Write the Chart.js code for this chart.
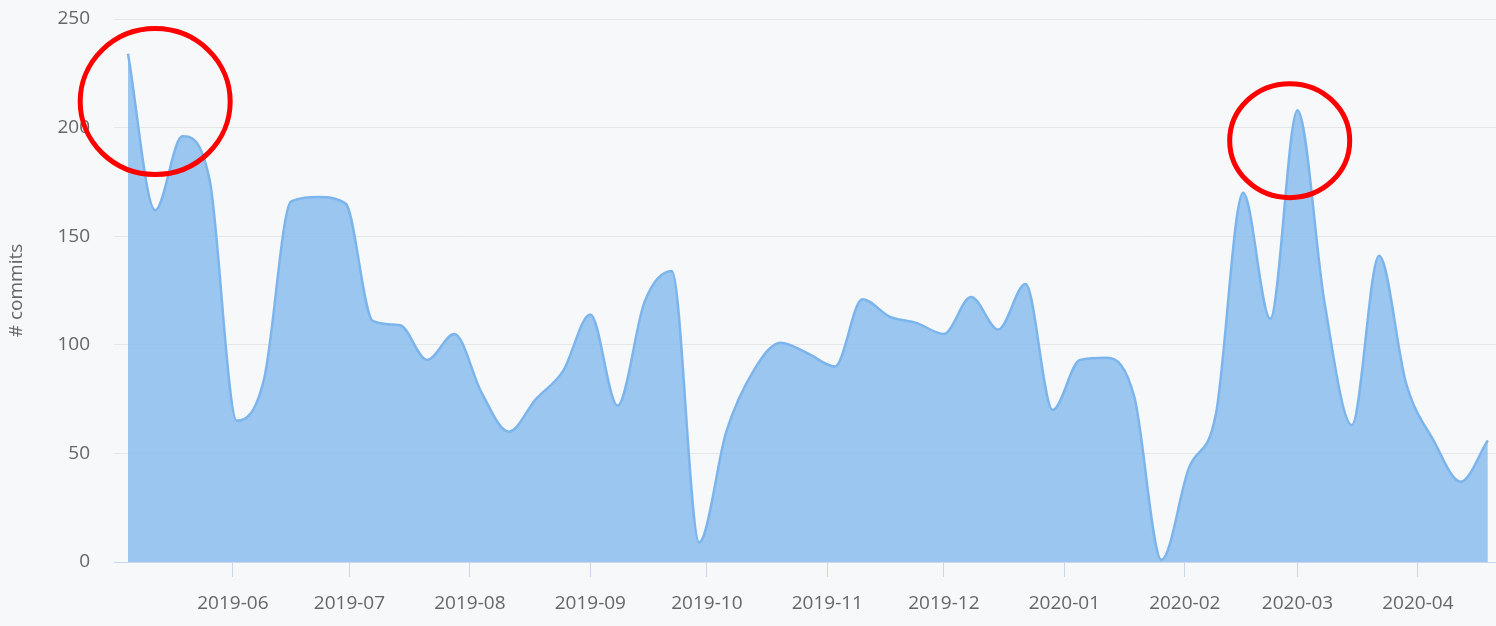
<!DOCTYPE html>
<html>
<head>
<meta charset="utf-8">
<title>Commits per week</title>
<script src="https://cdn.jsdelivr.net/npm/chart.js@4.4.1/dist/chart.umd.min.js"></script>
<style>
  html, body { margin: 0; padding: 0; background: #f7f8fa; }
  #wrap { width: 1496px; height: 626px; position: relative; }
</style>
</head>
<body>
<div id="wrap"><canvas id="commitsChart"></canvas></div>
<script>
// weekly commit counts, first week starts 2019-05-05
var firstWeek = '2019-05-05';
var commits = [234, 162, 196, 176, 65, 84, 166, 168, 165, 111,
               109, 93, 105, 78, 60, 75, 88, 114, 72, 120,
               134, 9, 60, 88, 101, 96, 90, 121, 113, 110,
               105, 122, 107, 128, 70, 93, 94, 76, 1, 43,
               68, 170, 112, 208, 119, 63, 141, 82, 56, 37, 56];
var monthLabels = ['2019-06', '2019-07', '2019-08', '2019-09', '2019-10', '2019-11',
                   '2019-12', '2020-01', '2020-02', '2020-03', '2020-04'];
var yTicks = [0, 50, 100, 150, 200, 250];

// red circles someone drew over the chart (centre in data units)
var circleDates = ['2019-05-12', '2020-02-28'];
var circleValues = [212, 194];

function dayNum(s) {
    return Date.UTC(+s.slice(0, 4), +s.slice(5, 7) - 1, +s.slice(8, 10)) / 864e5;
}

var start = dayNum(firstWeek);
var points = commits.map(function (v, i) { return { x: start + 7 * i, y: v }; });

var circlePlugin = {
    id: 'redCircles',
    afterDatasetsDraw: function (chart) {
        var ctx = chart.ctx;
        var sx = chart.scales.x, sy = chart.scales.y;
        var radii = [[75, 73], [60, 57]];
        ctx.save();
        ctx.strokeStyle = '#ff0000';
        ctx.lineWidth = 5;
        for (var i = 0; i < circleDates.length; i++) {
            ctx.beginPath();
            ctx.ellipse(sx.getPixelForValue(dayNum(circleDates[i])),
                        sy.getPixelForValue(circleValues[i]),
                        radii[i][0], radii[i][1], 0, 0, Math.PI * 2);
            ctx.stroke();
        }
        ctx.restore();
    }
};

var labelFont = { family: '"Open Sans", sans-serif', size: 19 };

new Chart(document.getElementById('commitsChart').getContext('2d'), {
    type: 'line',
    data: {
        datasets: [{
            data: points,
            borderColor: '#7cb5ec',
            backgroundColor: 'rgba(124, 181, 236, 0.75)',
            borderWidth: 2.5,
            fill: 'origin',
            pointRadius: 0,
            cubicInterpolationMode: 'monotone'
        }]
    },
    options: {
        responsive: true,
        maintainAspectRatio: false,
        animation: false,
        layout: { padding: { top: 19, left: 0, right: 0, bottom: 0 } },
        plugins: { legend: { display: false }, tooltip: { enabled: false } },
        scales: {
            x: {
                type: 'linear',
                min: start - 3.6,
                max: start + 7 * (commits.length - 1) + 2.1,
                afterBuildTicks: function (scale) {
                    scale.ticks = monthLabels.map(function (m) { return { value: dayNum(m + '-01') }; });
                },
                afterFit: function (scale) { scale.height = 64; },
                grid: { drawOnChartArea: false, drawTicks: true, tickLength: 15, color: '#ccd6eb' },
                border: { color: '#ccd6eb' },
                ticks: {
                    autoSkip: false,
                    maxRotation: 0,
                    padding: 15,
                    color: '#666666',
                    font: labelFont,
                    callback: function (value, index) { return monthLabels[index]; }
                }
            },
            y: {
                min: 0,
                max: 250,
                afterBuildTicks: function (scale) {
                    scale.ticks = yTicks.map(function (v) { return { value: v }; });
                },
                afterFit: function (scale) {
                    scale.width = 114;
                    scale.paddingTop = 0;
                    scale.paddingBottom = 0;
                },
                grid: { color: '#e6e6e6', drawTicks: false },
                border: { display: false },
                ticks: { padding: 24, color: '#666666', font: labelFont },
                title: {
                    display: true,
                    text: '# commits',
                    color: '#666666',
                    font: labelFont,
                    padding: { top: 5, bottom: 0 }
                }
            }
        }
    },
    plugins: [circlePlugin]
});
</script>
</body>
</html>
